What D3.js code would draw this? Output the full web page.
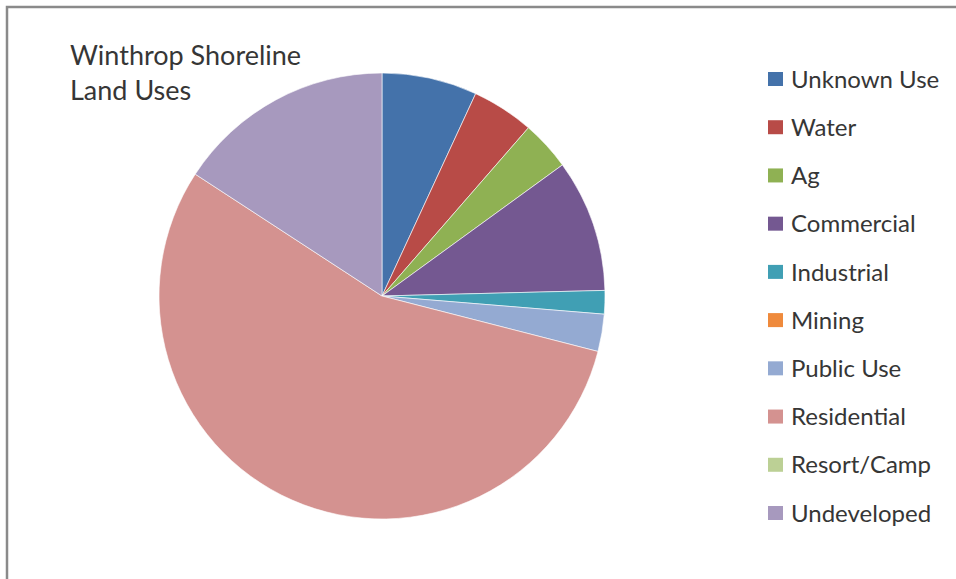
<!DOCTYPE html>
<html lang="en">
  <head>
    <meta charset="UTF-8">
    <title>Winthrop Shoreline Land Uses</title>
    <script src="https://cdn.jsdelivr.net/npm/d3@7"></script>
    <style>
      body {
        margin: 0;
        background: #fff;
      }

      text {
        font-family: Lato, "Open Sans", sans-serif;
        fill: #363636;
      }

      .slice {
        stroke: #fff;
        stroke-width: 0.6;
      }
    </style>
  </head>
  <body>
    <svg id="chart"></svg>

    <script>
      var categories = ["Unknown Use", "Water", "Ag", "Commercial", "Industrial",
                        "Mining", "Public Use", "Residential", "Resort/Camp", "Undeveloped"];
      var values = [6.9, 4.5, 3.6, 9.6, 1.7, 0, 2.7, 55.2, 0, 15.8];
      var colors = ["#4472aa", "#b84b47", "#8fb153", "#745891", "#409fb4",
                    "#ef8a3c", "#94aad2", "#d49290", "#bcd095", "#a799be"];
      var titleLines = ["Winthrop Shoreline", "Land Uses"];

      var width = 956,
          height = 579;

      var svg = d3.select("#chart")
          .attr("width", width)
          .attr("height", height);

      // frame (only top and left edges show in the crop)
      svg.append("path")
          .attr("d", "M7,579 V7 H956")
          .attr("fill", "none")
          .attr("stroke", "#8a8a8a")
          .attr("stroke-width", 2.5);

      var data = categories.map(function(c, i) {
        return { name: c, value: values[i], color: colors[i] };
      });

      var pie = d3.pie()
          .sort(null)
          .value(function(d) { return d.value; });

      var arc = d3.arc()
          .innerRadius(0)
          .outerRadius(223);

      var g = svg.append("g")
          .attr("transform", "translate(382,296)");

      g.selectAll(".slice")
        .data(pie(data).filter(function(d) { return d.data.value > 0; }))
        .enter()
        .append("path")
          .attr("class", "slice")
          .attr("d", arc)
          .attr("fill", function(d) { return d.data.color; });

      svg.append("text")
          .attr("x", 70)
          .attr("y", 65)
          .style("font-size", "27px")
          .selectAll("tspan")
          .data(titleLines)
          .enter()
          .append("tspan")
            .attr("x", 70)
            .attr("dy", function(d, i) { return i ? 35 : 0; })
            .text(function(d) { return d; });

      var y = d3.scalePoint()
          .domain(categories)
          .range([79, 513]);

      var legend = svg.append("g")
          .selectAll("g")
          .data(data)
          .enter()
          .append("g")
          .attr("transform", function(d) { return "translate(768," + y(d.name) + ")"; });

      legend.append("rect")
          .attr("x", 0)
          .attr("y", -7)
          .attr("width", 15)
          .attr("height", 14)
          .attr("fill", function(d) { return d.color; });

      legend.append("text")
          .attr("x", 23)
          .attr("dy", "0.36em")
          .style("font-size", "24px")
          .text(function(d) { return d.name; });
    </script>
  </body>
</html>
